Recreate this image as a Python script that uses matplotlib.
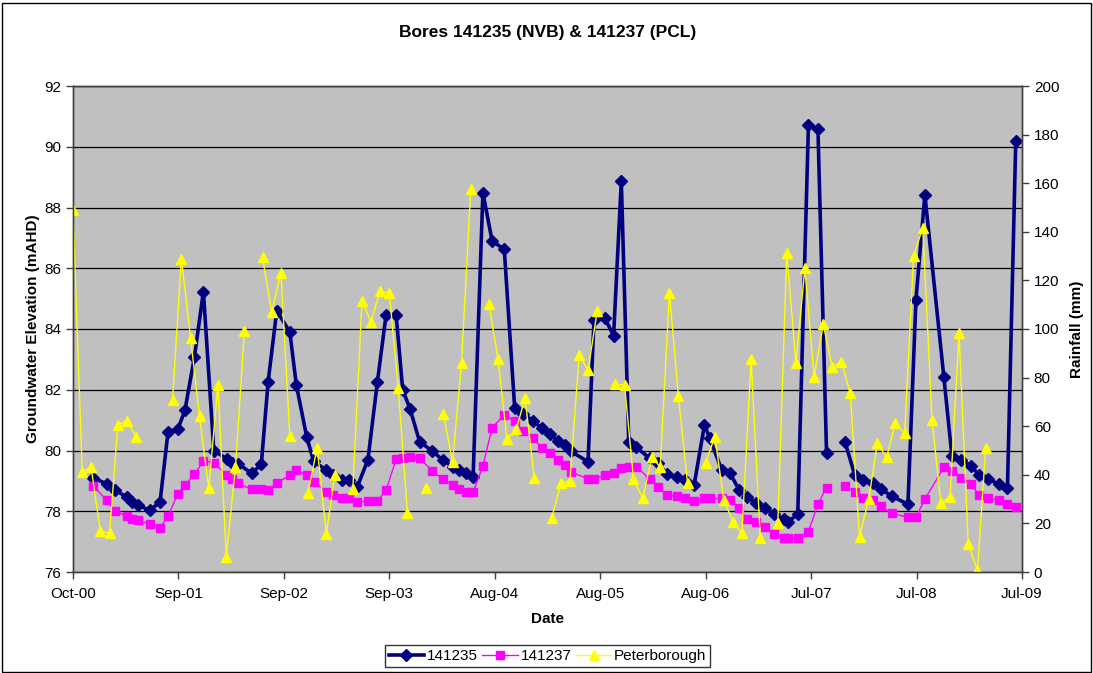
import numpy as np
import matplotlib
matplotlib.use("Agg")
import matplotlib.pyplot as plt
import matplotlib.dates as mdates
from matplotlib.patches import Rectangle

plt.rcParams["font.family"] = ["Liberation Sans", "DejaVu Sans"]

nan = np.nan

# sampling dates shared by both bores (one missing round in Oct-07)
bore_dates = [
    "2000-12-09", "2001-01-22", "2001-02-18", "2001-03-31", "2001-04-16", "2001-05-09",
    "2001-06-16", "2001-07-21", "2001-08-17", "2001-09-19", "2001-10-13", "2001-11-14",
    "2001-12-14", "2002-01-18", "2002-03-02", "2002-03-19", "2002-04-08", "2002-05-26",
    "2002-06-27", "2002-07-20", "2002-08-18", "2002-10-01", "2002-10-23", "2002-11-27",
    "2002-12-20", "2003-01-31", "2003-02-24", "2003-03-25", "2003-04-19", "2003-05-16",
    "2003-06-21", "2003-07-23", "2003-08-21", "2003-09-24", "2003-10-16", "2003-11-10",
    "2003-12-12", "2004-01-24", "2004-02-27", "2004-04-01", "2004-04-24", "2004-05-15",
    "2004-06-09", "2004-07-12", "2004-08-12", "2004-09-22", "2004-10-27", "2004-11-25",
    "2004-12-28", "2005-01-26", "2005-02-23", "2005-03-22", "2005-04-14", "2005-05-03",
    "2005-07-01", "2005-07-21", "2005-08-27", "2005-09-25", "2005-10-21", "2005-11-15",
    "2005-12-11", "2006-01-25", "2006-02-22", "2006-03-24", "2006-04-25", "2006-05-25",
    "2006-06-23", "2006-07-28", "2006-08-15", "2006-09-24", "2006-10-22", "2006-11-22",
    "2006-12-19", "2007-01-17", "2007-02-16", "2007-03-19", "2007-04-21", "2007-05-06",
    "2007-06-07", "2007-07-13", "2007-08-14", "2007-09-12", "2007-10-13", "2007-11-13",
    "2007-12-16", "2008-01-13", "2008-02-14", "2008-03-13", "2008-04-18", "2008-06-12",
    "2008-07-09", "2008-08-08", "2008-10-11", "2008-11-07", "2008-12-09", "2009-01-10",
    "2009-02-07", "2009-03-09", "2009-04-14", "2009-05-13", "2009-06-10",
]

bore_141235 = [
    79.10, 78.90, 78.70, 78.47, 78.30, 78.20, 78.03, 78.30, 80.62, 80.70, 81.33, 83.09,
    85.23, 80.00, 79.73, 79.60, 79.57, 79.25, 79.55, 82.27, 84.60, 83.90, 82.15, 80.44,
    79.65, 79.36, 79.20, 79.03, 79.03, 78.80, 79.70, 82.27, 84.46, 84.46, 82.00, 81.36,
    80.29, 79.98, 79.69, 79.47, 79.36, 79.25, 79.12, 88.49, 86.90, 86.62, 81.40, 81.20,
    80.98, 80.73, 80.54, 80.31, 80.18, 79.98, 79.63, 84.30, 84.35, 83.78, 88.87, 80.29,
    80.10, 79.74, 79.58, 79.22, 79.14, 79.03, 78.86, 80.84, 80.40, 79.36, 79.25, 78.70,
    78.46, 78.28, 78.10, 77.91, 77.74, 77.66, 77.90, 90.72, 90.58, 79.91, nan, 80.29,
    79.19, 79.03, 78.94, 78.73, 78.50, 78.23, 84.97, 88.41, 82.41, 79.82, 79.69, 79.49,
    79.19, 79.06, 78.89, 78.76, 90.20,
]

bore_141237 = [
    78.83, 78.37, 78.02, 77.84, 77.73, 77.71, 77.57, 77.46, 77.84, 78.57, 78.86, 79.22,
    79.65, 79.60, 79.19, 79.05, 78.92, 78.72, 78.72, 78.70, 78.92, 79.19, 79.36, 79.19,
    78.97, 78.64, 78.53, 78.42, 78.45, 78.31, 78.33, 78.33, 78.70, 79.71, 79.76, 79.80,
    79.74, 79.33, 79.06, 78.86, 78.73, 78.64, 78.62, 79.49, 80.75, 81.17, 80.97, 80.64,
    80.40, 80.09, 79.93, 79.69, 79.52, 79.30, 79.06, 79.06, 79.19, 79.25, 79.43, 79.47,
    79.47, 79.05, 78.79, 78.53, 78.50, 78.42, 78.35, 78.42, 78.42, 78.42, 78.37, 78.10,
    77.73, 77.66, 77.49, 77.25, 77.12, 77.11, 77.13, 77.33, 78.23, 78.78, nan, 78.83,
    78.64, 78.42, 78.37, 78.17, 77.93, 77.80, 77.80, 78.40, 79.45, 79.33, 79.10, 78.90,
    78.53, 78.42, 78.37, 78.23, 78.13,
]

# monthly rainfall at Peterborough, first value is Oct-2000
rain_start = "2000-10"
rain_peterborough = [
    149.0, 41.3, 43.1, 16.9, 15.9, 60.5, 62.3, 55.7, nan, nan, nan, 70.8,
    129.0, 96.2, 64.0, 34.4, 77.0, 6.3, 43.1, 99.2, nan, 129.5, 106.9, 123.2,
    56.0, nan, 32.6, 51.2, 15.6, 39.9, nan, 34.0, 111.5, 103.0, 115.6, 114.7,
    75.6, 24.4, nan, 34.7, nan, 64.9, 45.4, 85.9, 157.5, nan, 110.3, 87.5,
    54.7, 58.7, 71.5, 38.6, nan, 22.4, 36.5, 37.6, 89.3, 83.1, 107.4, nan,
    77.2, 77.0, 38.3, 30.3, 47.4, 43.1, 114.9, 72.6, 36.5, nan, 45.0, 55.7,
    29.6, 20.7, 15.9, 87.5, 13.9, nan, 20.0, 131.1, 86.1, 125.0, 80.4, 101.9,
    84.5, 86.5, 73.5, 14.5, 30.0, 53.0, 47.2, 61.2, 57.1, 130.2, 141.7, 62.6,
    28.3, 31.0, 98.2, 11.5, 0.8, 51.2,
]

dates = np.array(bore_dates, dtype="datetime64[D]")
rain_dates = (np.datetime64(rain_start, "M") + np.arange(len(rain_peterborough))).astype("datetime64[D]")

fig = plt.figure(figsize=(10.93, 6.73), dpi=100)
ax = fig.add_axes([73 / 1093, 101 / 673, 949 / 1093, 486 / 673])
ax2 = ax.twinx()

ax.set_facecolor("#C0C0C0")
ax.set_axisbelow(True)
ax.yaxis.grid(True, color="black", lw=0.9)

ax.plot(dates, bore_141235, color="#000080", lw=2.6, marker="D", ms=6.5,
        label="141235")
ax.plot(dates, bore_141237, color="#FF00FF", lw=1.0, marker="s", ms=6,
        label="141237")
ax2.plot(rain_dates, rain_peterborough, color="#FFFF00", lw=1.0, marker="^", ms=7,
         label="Peterborough")

# Excel date axis: start 1-Oct-2000, major unit 355 days
x0 = mdates.date2num(np.datetime64("2000-10-01"))
ticks = x0 + 355 * np.arange(10)
ax.set_xlim(ticks[0], ticks[-1])
ax.set_xticks(ticks)
ax.xaxis.set_major_formatter(mdates.DateFormatter("%b-%y"))

ax.set_ylim(76, 92)
ax.set_yticks(np.arange(76, 93, 2))
ax2.set_ylim(0, 200)
ax2.set_yticks(np.arange(0, 201, 20))

for a in (ax, ax2):
    for s in a.spines.values():
        s.set_color("#404040")
        s.set_linewidth(1.0)
    a.tick_params(direction="out", length=5, width=1, labelsize=11, color="#404040")
ax.tick_params(axis="x", pad=6)

ax.set_xlabel("Date", fontsize=11, fontweight="bold", labelpad=8)
ax.set_ylabel("Groundwater Elevation (mAHD)", fontsize=11, fontweight="bold", labelpad=3)
ax2.set_ylabel("Rainfall (mm)", fontsize=11, fontweight="bold", labelpad=8)
fig.text(0.501, 0.951, "Bores 141235 (NVB) & 141237 (PCL)", ha="center", va="center",
         fontsize=12.5, fontweight="bold")

h1, l1 = ax.get_legend_handles_labels()
h2, l2 = ax2.get_legend_handles_labels()
leg = fig.legend(h1 + h2, l1 + l2, loc="center", bbox_to_anchor=(0.501, 0.025), ncol=3,
                 fontsize=11, frameon=True, fancybox=False, edgecolor="black",
                 handlelength=2.3, columnspacing=0.3, handletextpad=0.2,
                 borderpad=0.25, borderaxespad=0)
leg.get_frame().set_linewidth(1.0)

fig.patches.append(Rectangle((0.002, 0.002), 0.996, 0.994, transform=fig.transFigure,
                             fill=False, edgecolor="black", lw=1.0))

fig.savefig("out.png", dpi=100, facecolor="white")
